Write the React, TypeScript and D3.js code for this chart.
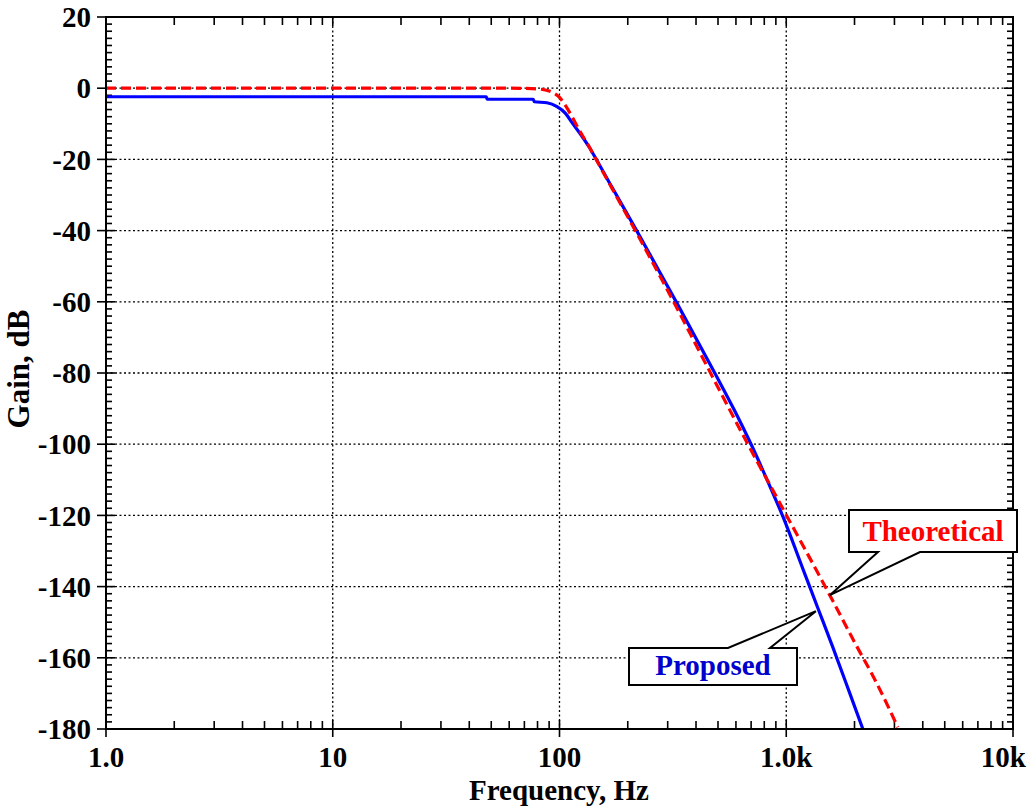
import React from "react";
import * as d3 from "d3";

// Frequency response samples (Hz, dB)
const freqTheoretical = [1, 10, 40, 60, 70, 80, 90, 100, 107, 114, 122, 135, 143, 170, 219, 323, 460, 677, 1003, 1556, 2000, 2500, 3105];
const gainTheoretical = [0, 0, 0, 0, -0.05, -0.2, -0.8, -2.6, -5.2, -8.2, -11.7, -16.4, -19.3, -28, -40.7, -60.7, -79.6, -100, -120, -142.4, -155.6, -167, -179.5];

const freqProposed = [1, 47.5, 48, 76.5, 77.5, 88, 97.5, 106, 114, 125, 135, 140, 170, 222, 329, 484, 590, 703, 840, 969, 1200, 1378, 1604, 1900, 2177];
const gainProposed = [-2.4, -2.4, -3.1, -3.1, -3.8, -4.1, -5.2, -7.0, -9.8, -13.3, -16.5, -18.2, -27.7, -40.7, -60.3, -80, -90.4, -100.3, -111.3, -120.5, -136, -146, -157, -169.7, -180];

const xTickValues = [1, 10, 100, 1000, 10000];
const xTickLabels = ["1.0", "10", "100", "1.0k", "10k"];
const yTickValues = [20, 0, -20, -40, -60, -80, -100, -120, -140, -160, -180];

// Callout anchors on the curves: [freq, gain]
const theoreticalAnchor = [1556, -142.4];
const proposedAnchor = [1351, -146.9];

const FONT = "'Liberation Serif', 'Times New Roman', Times, serif";

export default function App() {
  const left = 106, right = 1013, top = 17, bottom = 729;
  const x = d3.scaleLog().domain([1, 10000]).range([left, right]);
  const y = d3.scaleLinear().domain([-180, 20]).range([bottom, top]);

  const line = d3
    .line<[number, number]>()
    .x((d) => x(d[0]))
    .y((d) => y(d[1]))
    .curve(d3.curveMonotoneX);

  const theoretical = freqTheoretical.map((f, i) => [f, gainTheoretical[i]] as [number, number]);
  const proposed = freqProposed.map((f, i) => [f, gainProposed[i]] as [number, number]);

  // minor ticks
  const xMinor: number[] = [];
  for (let dec = 1; dec < 10000; dec *= 10) {
    for (let k = 2; k <= 9; k++) xMinor.push(dec * k);
  }
  const yMinor: number[] = [];
  for (let v = -180; v <= 20; v += 2) if (v % 20 !== 0) yMinor.push(v);

  const tAx = x(theoreticalAnchor[0]);
  const tAy = y(theoreticalAnchor[1]);
  const pAx = x(proposedAnchor[0]);
  const pAy = y(proposedAnchor[1]);

  const tBox = { x0: 849, x1: 1017, y0: 510, y1: 552 };
  const pBox = { x0: 629, x1: 797, y0: 648, y1: 685 };

  const tPath = `M${tBox.x0},${tBox.y0}H${tBox.x1}V${tBox.y1}H920L${tAx},${tAy}L878,${tBox.y1}H${tBox.x0}Z`;
  const pPath = `M${pBox.x0},${pBox.y0}H728L${pAx},${pAy}L770,${pBox.y0}H${pBox.x1}V${pBox.y1}H${pBox.x0}Z`;

  return (
    <svg
      width={1032}
      height={812}
      style={{ position: "absolute", left: 0, top: 0, background: "#fff" }}
      fontFamily={FONT}
      fontWeight="bold"
    >
      <rect x={0} y={0} width={1032} height={812} fill="#fff" />
      <defs>
        <clipPath id="plot-clip">
          <rect x={left} y={top} width={right - left} height={bottom - top} />
        </clipPath>
      </defs>

      {/* grid */}
      <g stroke="#000" strokeWidth={1.3} strokeDasharray="2,2.5">
        {xTickValues.slice(1, -1).map((v) => (
          <line key={"gx" + v} x1={x(v)} x2={x(v)} y1={top} y2={bottom} />
        ))}
        {yTickValues.slice(1, -1).map((v) => (
          <line key={"gy" + v} x1={left} x2={right} y1={y(v)} y2={y(v)} />
        ))}
      </g>

      {/* ticks */}
      <g stroke="#000" strokeWidth={1.6}>
        {xMinor.map((v) => (
          <g key={"xm" + v}>
            <line x1={x(v)} x2={x(v)} y1={bottom} y2={bottom - 8} />
            <line x1={x(v)} x2={x(v)} y1={top} y2={top + 8} />
          </g>
        ))}
        {xTickValues.map((v) => (
          <g key={"xM" + v}>
            <line x1={x(v)} x2={x(v)} y1={bottom + 8} y2={bottom - 9} />
            <line x1={x(v)} x2={x(v)} y1={top} y2={top + 9} />
          </g>
        ))}
        {yMinor.map((v) => (
          <g key={"ym" + v}>
            <line x1={left} x2={left + 6} y1={y(v)} y2={y(v)} />
            <line x1={right} x2={right - 6} y1={y(v)} y2={y(v)} />
          </g>
        ))}
        {yTickValues.map((v) => (
          <g key={"yM" + v}>
            <line x1={left - 9} x2={left + 9} y1={y(v)} y2={y(v)} />
            <line x1={right} x2={right - 9} y1={y(v)} y2={y(v)} />
          </g>
        ))}
      </g>

      {/* curves */}
      <g clipPath="url(#plot-clip)" fill="none">
        <path d={line(proposed) || ""} stroke="#0000ff" strokeWidth={3.2} />
        <path d={line(theoretical) || ""} stroke="#ff0000" strokeWidth={3.2} strokeDasharray="10,5" />
      </g>

      {/* frame */}
      <rect x={left} y={top} width={right - left} height={bottom - top} fill="none" stroke="#000" strokeWidth={2} />

      {/* tick labels */}
      <g fontSize={29} fill="#000">
        {xTickValues.map((v, i) => {
          const last = i === xTickValues.length - 1;
          return (
            <text key={"xl" + v} x={last ? 1026 : x(v)} y={767} textAnchor={last ? "end" : "middle"}>
              {xTickLabels[i]}
            </text>
          );
        })}
        {yTickValues.map((v) => (
          <text key={"yl" + v} x={91} y={y(v)} dy="0.35em" textAnchor="end">
            {v}
          </text>
        ))}
      </g>

      {/* axis titles */}
      <text x={559} y={800} fontSize={29} textAnchor="middle" fill="#000">
        Frequency, Hz
      </text>
      <text transform="translate(29,369) rotate(-90)" fontSize={31} textAnchor="middle" fill="#000">
        Gain, dB
      </text>

      {/* callouts */}
      <path d={tPath} fill="#fff" stroke="#000" strokeWidth={2} strokeLinejoin="miter" />
      <text x={933} y={541} fontSize={29} textAnchor="middle" fill="#ff0000">
        Theoretical
      </text>
      <path d={pPath} fill="#fff" stroke="#000" strokeWidth={2} strokeLinejoin="miter" />
      <text x={713} y={675} fontSize={29} textAnchor="middle" fill="#0000cc">
        Proposed
      </text>
    </svg>
  );
}
